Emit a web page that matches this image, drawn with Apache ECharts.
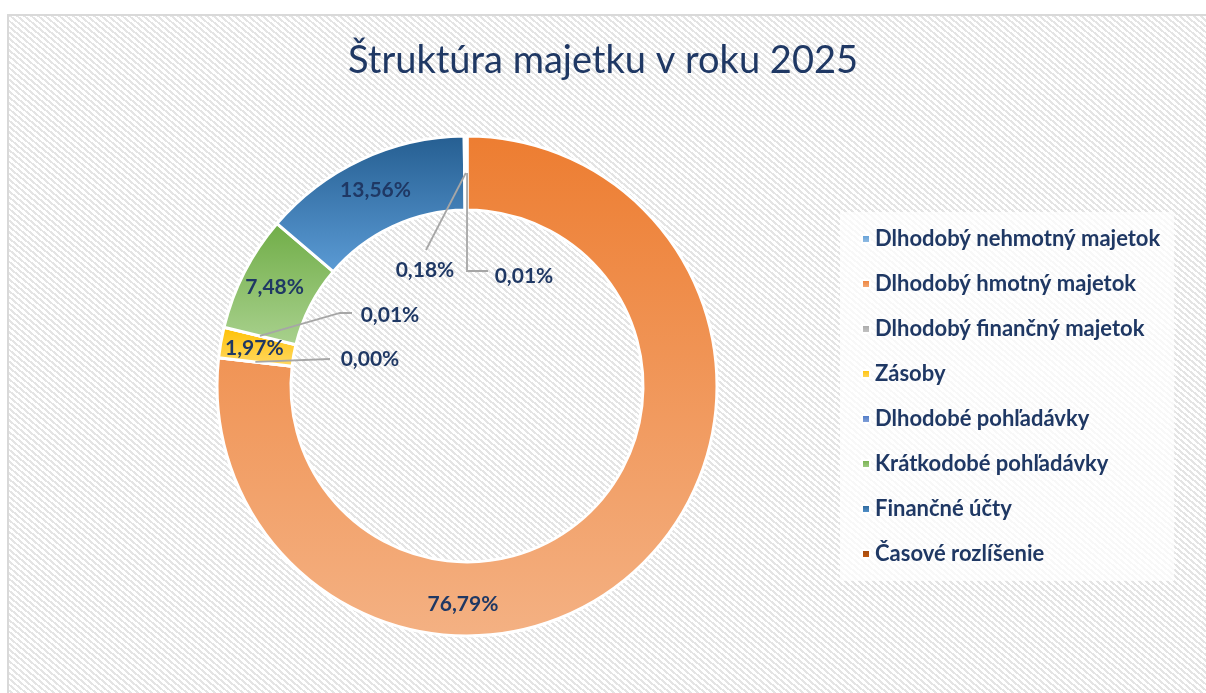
<!DOCTYPE html>
<html>
<head>
<meta charset="utf-8">
<script src="https://cdn.jsdelivr.net/npm/echarts@6/dist/echarts.min.js"></script>
<style type="text/css">
html, body {margin: 0; padding: 0; background: #fff;}
.frame {position: absolute; left: 7px; top: 14px; width: 1199px; height: 679px;
  border-left: 2px solid #d9d9d9; border-top: 2px solid #d9d9d9;
  background: repeating-linear-gradient(40deg, #ffffff 0px, #ffffff 2.5px, #e4e4e4 2.5px, #e4e4e4 4.5px);}
#myChart {position: absolute; left: 0; top: 0; width: 1206px; height: 693px;}
</style>
</head>
<body>
<div class="frame"></div>
<div id="myChart"></div>
<script>
// data (percent of total assets)
var categories = ['Dlhodobý nehmotný majetok', 'Dlhodobý hmotný majetok', 'Dlhodobý finančný majetok',
                  'Zásoby', 'Dlhodobé pohľadávky', 'Krátkodobé pohľadávky', 'Finančné účty', 'Časové rozlíšenie'];
var shares = [0.01, 76.79, 0.00, 1.97, 0.01, 7.48, 13.56, 0.18];

// gradient top -> bottom per slice
var topColors = ['#5b9bd5', '#ed7d31', '#a5a5a5', '#ffc000', '#4472c4', '#70ad47', '#255e91', '#9e480e'];
var bottomColors = ['#9dc3e6', '#f4b183', '#c9c9c9', '#ffd966', '#8faadc', '#a9d18e', '#5b9bd5', '#c55a11'];

var center = [467, 386];
var radius = [176, 250];
var navy = '#1f3864';

// labels that were moved by hand in the original, and the leader lines to them
var labelSpot = {0: [524, 276], 1: [463, 604], 2: [370, 359], 4: [390, 315], 7: [425, 270]};
var guideEnd = {
    0: [[467, 271], [488, 271]],
    2: [[330, 359]],
    4: [[340, 313], [352, 313]],
    7: [[426, 250]]
};

var seriesData = categories.map(function (name, i) {
    return {
        name: name,
        value: shares[i],
        itemStyle: {
            color: new echarts.graphic.LinearGradient(0, 0, 0, 1, [
                {offset: 0, color: topColors[i]},
                {offset: 1, color: bottomColors[i]}
            ])
        }
    };
});

// leader lines start in the middle of the slice they belong to
var total = shares.reduce(function (a, b) { return a + b; }, 0);
var guides = [];
var acc = 0;
shares.forEach(function (v, i) {
    var mid = (acc + v / 2) / total * Math.PI * 2;
    acc += v;
    if (!guideEnd[i]) return;
    var r = (radius[0] + radius[1]) / 2;
    var start = [center[0] + r * Math.sin(mid), center[1] - r * Math.cos(mid)];
    guides.push({
        type: 'polyline',
        z: 100,
        silent: true,
        shape: {points: [start].concat(guideEnd[i])},
        style: {stroke: '#a6a6a6', lineWidth: 1.8, fill: null}
    });
});

var myChart = echarts.init(document.getElementById('myChart'));
myChart.setOption({
    title: {
        text: 'Štruktúra majetku v roku 2025',
        left: 'center',
        top: 37,
        textStyle: {fontFamily: 'Lato', fontSize: 38, fontWeight: 'normal', color: navy}
    },
    legend: {
        orient: 'vertical',
        left: 840,
        top: 212,
        padding: [16, 14, 16, 21],
        backgroundColor: 'rgba(255,255,255,0.75)',
        itemWidth: 8,
        itemHeight: 8,
        itemGap: 23,
        icon: 'rect',
        textStyle: {fontFamily: 'Lato', fontSize: 22, fontWeight: 'bold', color: navy},
        data: categories
    },
    graphic: guides,
    series: [{
        type: 'pie',
        center: center,
        radius: radius,
        startAngle: 90,
        clockwise: true,
        avoidLabelOverlap: false,
        itemStyle: {borderColor: '#fff', borderWidth: 3},
        label: {
            show: true,
            position: 'inside',
            fontFamily: 'Lato',
            fontSize: 21,
            fontWeight: 'bold',
            color: navy,
            formatter: function (p) {
                return p.value.toFixed(2).replace('.', ',') + '%';
            }
        },
        labelLine: {show: false},
        labelLayout: function (params) {
            var s = labelSpot[params.dataIndex];
            if (!s) return {};
            return {x: s[0], y: s[1], align: 'center', verticalAlign: 'middle'};
        },
        emphasis: {disabled: true},
        data: seriesData
    }]
});
</script>
</body>
</html>
